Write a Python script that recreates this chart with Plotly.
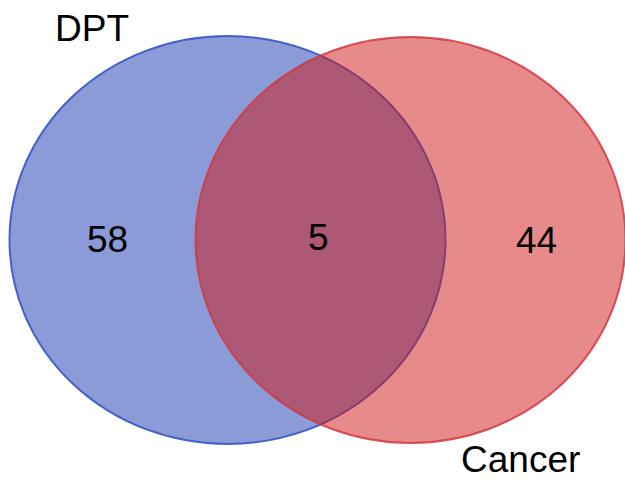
import plotly.graph_objects as go

set_names = ["DPT", "Cancer"]
region_counts = [58, 5, 44]  # DPT only, both, Cancer only

W, H = 625, 480
fig = go.Figure()

# ellipse geometry (pixel units)
circles = [
    dict(cx=227.5, cy=240, rx=218, ry=204, fill="rgba(21,55,175,0.50)", line="rgba(60,90,200,0.95)"),
    dict(cx=410.5, cy=240, rx=215, ry=203, fill="rgba(207,23,22,0.50)", line="rgba(210,55,65,0.85)"),
]
shapes = []
for c in circles:
    shapes.append(dict(type="circle", xref="x", yref="y",
                       x0=c["cx"] - c["rx"], x1=c["cx"] + c["rx"],
                       y0=c["cy"] - c["ry"], y1=c["cy"] + c["ry"],
                       fillcolor=c["fill"], line=dict(color=c["line"], width=2),
                       layer="below"))

font = dict(family="Liberation Sans, Arial, sans-serif", size=37, color="black")
label_pos = [(92, 28), (520, 459)]
count_pos = [(107, 239), (318, 237), (536, 240)]
annotations = []
for name, (x, y) in zip(set_names, label_pos):
    annotations.append(dict(x=x, y=y, xref="x", yref="y", text=name, showarrow=False,
                            font=font, xanchor="center", yanchor="middle"))
for n, (x, y) in zip(region_counts, count_pos):
    annotations.append(dict(x=x, y=y, xref="x", yref="y", text=str(n), showarrow=False,
                            font=font, xanchor="center", yanchor="middle"))

# invisible trace to establish axes
fig.add_trace(go.Scatter(x=[0, W], y=[0, H], mode="markers", marker=dict(opacity=0),
                         hoverinfo="skip", showlegend=False))

fig.update_layout(
    width=W, height=H, margin=dict(l=0, r=0, t=0, b=0),
    paper_bgcolor="white", plot_bgcolor="white",
    shapes=shapes, annotations=annotations, showlegend=False,
    xaxis=dict(range=[0, W], visible=False, fixedrange=True),
    yaxis=dict(range=[H, 0], visible=False, fixedrange=True),
)
fig.write_html("out.html", config={"displayModeBar": False},
               post_script="document.body.style.margin='0';document.body.style.overflow='hidden';")
